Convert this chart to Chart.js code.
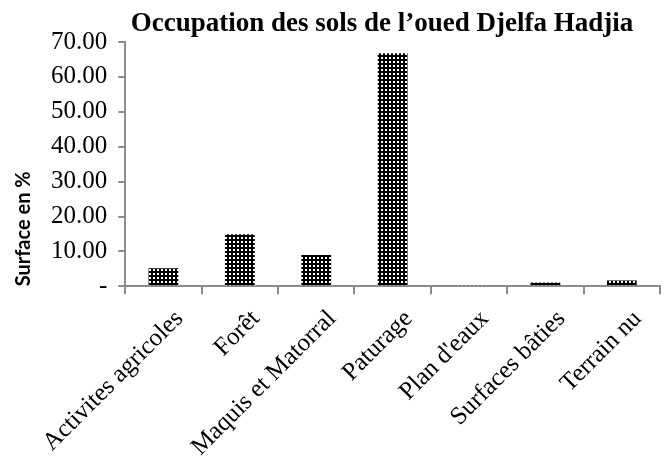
<!DOCTYPE html>
<html lang="fr">
<head>
  <meta charset="UTF-8" />
  <title>Occupation des sols de l'oued Djelfa Hadjia</title>
  <script src="https://cdn.jsdelivr.net/npm/chart.js@4.4.1/dist/chart.umd.min.js"></script>
  <style>
    body { margin: 0; background: #fff; }
  </style>
</head>
<body>
  <canvas id="myChart" width="664" height="472"></canvas>

  <script>
    const categories = ['Activites agricoles', 'Forêt', 'Maquis et Matorral', 'Paturage', "Plan d'eaux", 'Surfaces bâties', 'Terrain nu'];
    const surfaces = [5.2, 14.9, 9.0, 66.8, 0.4, 1.1, 1.7];
    const yTicks = [0, 10, 20, 30, 40, 50, 60, 70];

    const axisGrey = '#8c8c8c';

    // black fill with little white dots, like the original hatch
    function dotPattern() {
      const c = document.createElement('canvas');
      c.width = 4;
      c.height = 4;
      const g = c.getContext('2d');
      g.fillStyle = '#000';
      g.fillRect(0, 0, 4, 4);
      g.fillStyle = '#fff';
      g.fillRect(1, 1, 2, 2);
      return g.createPattern(c, 'repeat');
    }

    // title drawn by hand so it can sit beside the top tick label
    const titlePlugin = {
      id: 'sideTitle',
      afterDraw(chart) {
        const ctx = chart.ctx;
        ctx.save();
        ctx.font = 'bold 27px "Liberation Serif"';
        ctx.fillStyle = '#000';
        ctx.textAlign = 'center';
        ctx.textBaseline = 'alphabetic';
        ctx.fillText('Occupation des sols de l’oued Djelfa Hadjia', 382, 31);
        ctx.restore();
      }
    };

    const ctx = document.getElementById('myChart').getContext('2d');
    const myChart = new Chart(ctx, {
      type: 'bar',
      data: {
        labels: categories,
        datasets: [{
          data: surfaces,
          backgroundColor: dotPattern(),
          borderWidth: 0,
          barPercentage: 0.39,
          categoryPercentage: 1
        }]
      },
      options: {
        responsive: false,
        animation: false,
        layout: { padding: { top: 42, right: 4, left: 8, bottom: 0 } },
        plugins: {
          legend: { display: false },
          tooltip: { enabled: false }
        },
        scales: {
          x: {
            grid: {
              offset: true,
              drawOnChartArea: false,
              color: axisGrey,
              lineWidth: 2,
              tickLength: 8
            },
            border: { color: axisGrey, width: 2 },
            ticks: {
              color: '#000',
              font: { family: '"Liberation Serif"', size: 25 },
              maxRotation: 45,
              minRotation: 45,
              autoSkip: false,
              labelOffset: 16,
              padding: 10
            }
          },
          y: {
            min: 0,
            max: 70,
            afterBuildTicks: axis => { axis.ticks = yTicks.map(v => ({ value: v })); },
            grid: {
              drawOnChartArea: false,
              color: axisGrey,
              lineWidth: 2,
              tickLength: 7
            },
            border: { color: axisGrey, width: 2 },
            ticks: {
              color: '#000',
              font: { family: '"Liberation Serif"', size: 25 },
              autoSkip: false,
              padding: 11,
              callback: value => value === 0 ? '-' : value.toFixed(2)
            },
            title: {
              display: true,
              text: 'Surface en %',
              align: 'start',
              color: '#000',
              font: { family: 'Lato', size: 20, weight: 'bold' },
              padding: 4
            }
          }
        }
      },
      plugins: [titlePlugin]
    });
  </script>
</body>
</html>
